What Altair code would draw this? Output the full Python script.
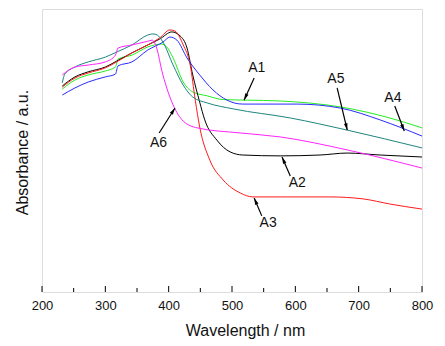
import math
import altair as alt
import pandas as pd

# ---- data (wavelength in nm, absorbance in a.u.) ----
A1_wl = [232, 252, 273, 300, 316, 320, 342, 367, 389, 397, 407, 423, 438, 461, 486, 524, 576, 671, 749, 800]
A1_ab = [0.717, 0.749, 0.767, 0.781, 0.795, 0.823, 0.837, 0.866, 0.876, 0.866, 0.827, 0.742, 0.707, 0.693, 0.680, 0.678, 0.675, 0.654, 0.615, 0.580]

A2_wl = [232, 252, 273, 300, 318, 342, 367, 386, 405, 418, 429, 438, 449, 457, 476, 497, 517, 576, 639, 682, 734, 800]
A2_ab = [0.728, 0.760, 0.778, 0.795, 0.816, 0.845, 0.873, 0.894, 0.919, 0.905, 0.862, 0.767, 0.671, 0.608, 0.537, 0.495, 0.484, 0.481, 0.484, 0.491, 0.484, 0.477]

A3_wl = [232, 252, 273, 300, 318, 342, 367, 386, 402, 410, 423, 434, 442, 449, 465, 486, 513, 533, 576, 655, 707, 749, 800]
A3_ab = [0.724, 0.756, 0.774, 0.792, 0.813, 0.845, 0.873, 0.898, 0.926, 0.922, 0.873, 0.802, 0.678, 0.583, 0.466, 0.396, 0.350, 0.336, 0.336, 0.336, 0.329, 0.311, 0.293]

A4_wl = [232, 252, 273, 300, 316, 320, 342, 367, 391, 402, 413, 429, 449, 470, 492, 517, 560, 603, 671, 734, 800]
A4_ab = [0.696, 0.721, 0.742, 0.760, 0.770, 0.799, 0.813, 0.855, 0.883, 0.901, 0.890, 0.827, 0.767, 0.714, 0.678, 0.664, 0.664, 0.664, 0.650, 0.608, 0.551]

A5_wl = [232, 236, 252, 273, 300, 318, 342, 367, 375, 382, 391, 407, 423, 438, 461, 502, 592, 682, 800]
A5_ab = [0.739, 0.770, 0.795, 0.813, 0.830, 0.848, 0.873, 0.908, 0.912, 0.908, 0.883, 0.802, 0.731, 0.689, 0.668, 0.647, 0.615, 0.572, 0.509]

A6_wl = [232, 252, 273, 300, 316, 320, 342, 367, 374, 382, 389, 397, 407, 423, 445, 513, 576, 682, 800]
A6_ab = [0.767, 0.795, 0.802, 0.813, 0.837, 0.862, 0.873, 0.886, 0.890, 0.855, 0.784, 0.721, 0.661, 0.604, 0.580, 0.562, 0.548, 0.502, 0.438]

names = ["A1", "A2", "A3", "A4", "A5", "A6"]
colors = ["#22ee22", "#000000", "#ff1a1a", "#2a2aff", "#1f8580", "#ff22ff"]
series = [(A1_wl, A1_ab), (A2_wl, A2_ab), (A3_wl, A3_ab), (A4_wl, A4_ab), (A5_wl, A5_ab), (A6_wl, A6_ab)]

# annotation labels and arrows
lab_name = ["A1", "A2", "A3", "A4", "A5", "A6"]
lab_x = [539, 603, 557, 754, 664, 384]
lab_y = [0.792, 0.385, 0.244, 0.686, 0.753, 0.527]
arr_x0 = [535, 592, 547, 757, 666, 385]
arr_y0 = [0.756, 0.410, 0.269, 0.657, 0.721, 0.562]
arr_x1 = [519, 579, 535, 772, 682, 410]
arr_y1 = [0.678, 0.477, 0.332, 0.569, 0.572, 0.650]

major_ticks = [200, 300, 400, 500, 600, 700, 800]
minor_ticks = [250, 350, 450, 550, 650, 750]

# ---- build tables ----
rows = []
for n, (wl, ab) in zip(names, series):
    for i, (w, a) in enumerate(zip(wl, ab)):
        rows.append({"s": n, "wl": w, "a": a, "i": i})
df = pd.DataFrame(rows)

W, H = 380, 283
XMIN, XMAX, YMIN, YMAX = 200, 800, 0.0, 1.0
ann = []
for n, lx, ly, x0, y0, x1, y1 in zip(lab_name, lab_x, lab_y, arr_x0, arr_y0, arr_x1, arr_y1):
    dx = (x1 - x0) * W / (XMAX - XMIN)
    dy = -(y1 - y0) * H / (YMAX - YMIN)
    ang = math.degrees(math.atan2(dx, -dy)) % 360
    ann.append({"n": n, "lx": lx, "ly": ly, "x0": x0, "y0": y0, "x1": x1, "y1": y1, "ang": ang})
adf = pd.DataFrame(ann)

xs = alt.Scale(domain=[XMIN, XMAX], nice=False, zero=False)
ys = alt.Scale(domain=[YMIN, YMAX], nice=False, zero=False)
FONT = "Liberation Sans"

lines = alt.Chart(df).mark_line(strokeWidth=1, interpolate="monotone").encode(
    x=alt.X("wl:Q", scale=xs, axis=alt.Axis(
        values=major_ticks, format="d", ticks=False, domain=False, grid=False,
        labelFont=FONT, labelFontSize=13, labelColor="#111", labelPadding=7, labelFlush=False,
        title="Wavelength / nm", titleFont=FONT, titleFontSize=16, titleFontWeight="normal",
        titleColor="#111", titleX=203, titleY=43, titleBaseline="alphabetic", titleAlign="center")),
    y=alt.Y("a:Q", scale=ys, axis=alt.Axis(
        labels=False, ticks=False, domain=False, grid=False,
        title="Absorbance / a.u.", titleFont=FONT, titleFontSize=16, titleFontWeight="normal",
        titleColor="#111", titleX=-20, titleY=143, titleAngle=-90, titleAlign="center",
        titleBaseline="middle")),
    color=alt.Color("s:N", scale=alt.Scale(domain=names, range=colors), legend=None),
    order=alt.Order("i:Q"),
)

major = alt.Chart(pd.DataFrame({"t": major_ticks})).mark_rule(color="black", strokeWidth=1).encode(
    x=alt.X("t:Q", scale=xs), y=alt.value(H), y2=alt.value(H - 6))
minor = alt.Chart(pd.DataFrame({"t": minor_ticks})).mark_rule(color="black", strokeWidth=1).encode(
    x=alt.X("t:Q", scale=xs), y=alt.value(H), y2=alt.value(H - 4))

shafts = alt.Chart(adf).mark_rule(color="black", strokeWidth=1.2).encode(
    x=alt.X("x0:Q", scale=xs), y=alt.Y("y0:Q", scale=ys), x2="x1:Q", y2="y1:Q")
heads = alt.Chart(adf).mark_point(
    shape="M0,0 L-0.45,1.7 L0.45,1.7 Z", filled=True, color="black", opacity=1, size=64, strokeWidth=0
).encode(x=alt.X("x1:Q", scale=xs), y=alt.Y("y1:Q", scale=ys), angle=alt.Angle("ang:Q", scale=None))
labels = alt.Chart(adf).mark_text(font=FONT, fontSize=14, color="#111", baseline="middle", align="center").encode(
    x=alt.X("lx:Q", scale=xs), y=alt.Y("ly:Q", scale=ys), text="n:N")

chart = alt.layer(lines, major, minor, shafts, heads, labels).properties(
    width=W, height=H,
    autosize=alt.AutoSizeParams(type="none"),
    padding={"left": 42, "top": 9, "right": 23, "bottom": 54},
).configure_view(stroke="black", strokeWidth=1.2).configure(background="white")

chart.save("out.html", embed_options={"renderer": "svg", "actions": False})
